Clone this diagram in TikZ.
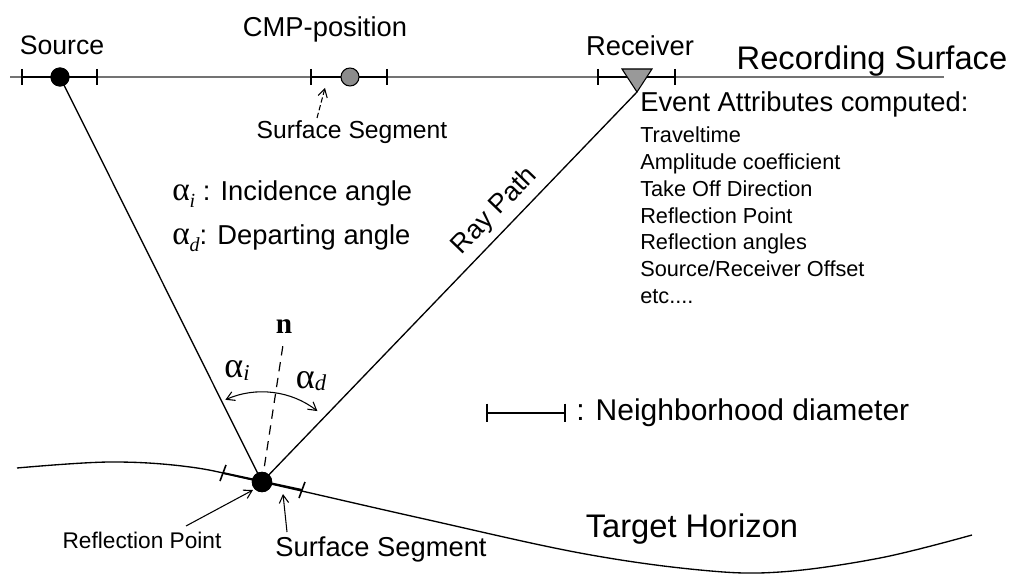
\documentclass[tikz,border=0pt]{standalone}
\usepackage{fontspec}
\setmainfont{Liberation Sans}
\newfontfamily\seriffont{Liberation Serif}
\usetikzlibrary{arrows.meta}
\newcommand\alsym[3]{{\seriffont\fontsize{#2}{#2}\selectfont α}\raisebox{-0.22em}{\seriffont\itshape\fontsize{#3}{#3}\selectfont #1}}
\begin{document}
\begin{tikzpicture}[x=0.75pt,y=-0.75pt,
  txt/.style={inner sep=0pt, anchor=base, font=\fontsize{#1}{#1}\selectfont},
  ltxt/.style={inner sep=0pt, anchor=base west, font=\fontsize{#1}{#1}\selectfont},
  dotnode/.style={circle, draw=black, fill=#1, inner sep=0pt, minimum size=13.5pt, line width=0.8pt},
  seg/.style={line width=1.5pt},
  tick/.style={line width=1.2pt},
  ray/.style={line width=1pt},
  lbarrow/.style={line width=0.8pt, -{Straight Barb[length=6pt,width=7pt]}},
  >={Straight Barb[length=6pt,width=7pt]}]
\useasboundingbox (0,0) rectangle (1015,574);

% recording surface
\coordinate (rsL) at (10,77);
\coordinate (rsR) at (944,77);
\draw[line width=1.1pt, black!55] (rsL) -- (rsR);

% neighbourhood segments on surface
\coordinate (s1) at (22,77); \coordinate (s2) at (97,77);
\coordinate (c1) at (311,77); \coordinate (c2) at (387,77);
\coordinate (r1) at (598,77); \coordinate (r2) at (675,77);
\foreach \a/\b in {s1/s2,c1/c2,r1/r2}{
  \draw[seg] (\a) -- (\b);
  \draw[tick] ([yshift=6pt]\a) -- ([yshift=-6pt]\a);
  \draw[tick] ([yshift=6pt]\b) -- ([yshift=-6pt]\b);
}

% target horizon
\draw[line width=1pt] plot[smooth, tension=0.6] coordinates
  {(17,468) (110,462) (190,467) (262,482) (420,518) (580,553) (700,570) (780,572) (880,558) (972,535)};
\coordinate (h1) at (223,473); \coordinate (h2) at (302,490);
\draw[seg] (h1) -- (h2);
\draw[tick] (220,481) -- (226,465);
\draw[tick] (299,498) -- (305,482);

% reflection point and rays
\node[dotnode=black, minimum size=14.5pt] (rp) at (262,482) {};
\node[dotnode=black] (src) at (60,77) {};
\node[dotnode=black!45] (cmp) at (350,77) {};
\coordinate (rcv) at (637,92);
\draw[ray] (src.center) -- (rp.center);
\draw[ray] (rp.center) -- (rcv);
\draw[line width=0.8pt, fill=black!40] (622,69) -- (652,69) -- (rcv) -- cycle;
\node[dotnode=black, minimum size=14.5pt] at (rp) {};
\node[dotnode=black] at (src) {};

% normal
\coordinate (ntop) at (283,345);
\draw[line width=0.9pt, dash pattern=on 7pt off 5pt] (rp.center) -- (ntop);
\node[inner sep=0pt, anchor=base, font=\seriffont\bfseries\fontsize{22}{22}\selectfont] (n) at (284,334) {n};

% angle arc
\draw[line width=0.8pt, <->] (rp.center) ++(114:67.5pt) arc[start angle=114, end angle=52, radius=67.5pt];
\node[inner sep=0pt, anchor=base] (ai) at (237,378) {\alsym{i}{27}{17}};
\node[inner sep=0pt, anchor=base] (ad) at (311,388) {\alsym{d}{27}{17}};

% labels on surface
\node[txt=20] (lsrc) at (62,55) {Source};
\node[txt=20.5] (lcmp) at (325,37) {CMP-position};
\node[txt=18.5] (lss1) at (352,139) {Surface Segment};
\draw[line width=0.8pt, dash pattern=on 4pt off 2pt, ->] (317,118) -- (325,88);
\node[txt=20.5] (lrcv) at (640,56) {Receiver};
\node[txt=24.5] (lrs) at (872,70) {Recording Surface};

% event attributes
\node[ltxt=20.5] (ev) at (640,112) {Event Attributes computed:};
\node[ltxt=16.3] (ea1) at (640,143) {Traveltime};
\node[ltxt=16.3] (ea2) at (640,169.7) {Amplitude coefficient};
\node[ltxt=16.3] (ea3) at (640,196.4) {Take Off Direction};
\node[ltxt=16.3] (ea4) at (640,223.1) {Reflection Point};
\node[ltxt=16.3] (ea5) at (640,249.8) {Reflection angles};
\node[ltxt=16.3] (ea6) at (640,276.5) {Source/Receiver Offset};
\node[ltxt=16.3] (ea7) at (640,303.2) {etc....};

% legend
\node[ltxt=20.5] (li) at (172,201) {\alsym{i}{25}{15} : Incidence angle};
\node[ltxt=20.5] (ld) at (172,245) {\alsym{d}{25}{15}: Departing angle};
\node[txt=20, anchor=center, rotate=46] (rpath) at (495,211) {Ray Path};

\coordinate (nb1) at (487,413); \coordinate (nb2) at (565,413);
\draw[seg] (nb1) -- (nb2);
\draw[tick] ([yshift=7pt]nb1) -- ([yshift=-7pt]nb1);
\draw[tick] ([yshift=7pt]nb2) -- ([yshift=-7pt]nb2);
\node[ltxt=22.5] (lnb) at (576,420) {: Neighborhood diameter};

% bottom labels
\node[txt=24.5] (lth) at (692,537) {Target Horizon};
\node[txt=17] (lrp) at (142,548) {Reflection Point};
\node[txt=20.5] (lss2) at (381,556) {Surface Segment};
\draw[lbarrow] (186,526) -- (253,490);
\draw[lbarrow] (287,532) -- (283,494);
\end{tikzpicture}
\end{document}
